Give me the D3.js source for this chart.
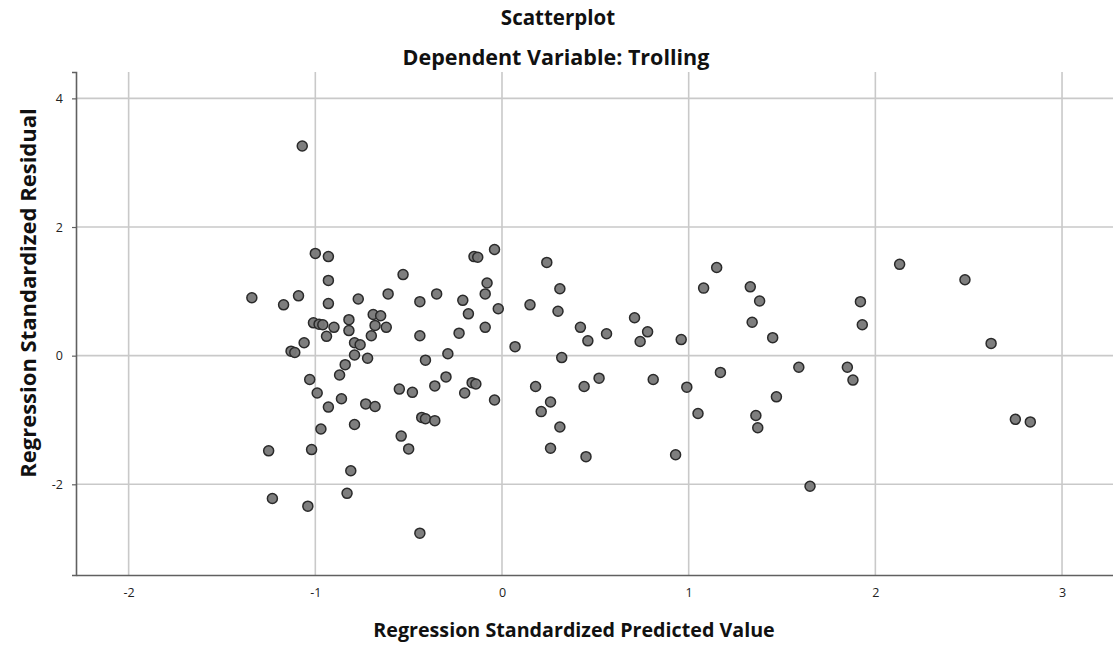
<!DOCTYPE html>
<html>
<head>
<meta charset="utf-8">
<script src="https://cdn.jsdelivr.net/npm/d3@7"></script>
<style>
  html, body { margin: 0; padding: 0; background: #fff; }
  svg { display: block; font-family: "Open Sans", sans-serif; }
</style>
</head>
<body>
<div id="root"></div>
<script>
// standardized predicted values (x) and standardized residuals (y)
const predicted = [
  -1.00, -0.93, -0.93, -1.34, -1.17, -1.09, -0.93, -0.77, -0.61, -0.53,
  -0.44, -0.35, -0.21, -0.18, -0.15, -0.13, -0.04, -0.08, -0.09, -0.02,
  -0.09, -0.23, -0.44, 0.07, -1.01, -0.98, -0.96, -0.90, -0.94, -0.82,
  -0.82, -0.69, -0.65, -0.68, -0.62, -0.70, -0.79, -0.76, -0.79, -0.72,
  -1.06, -1.13, -1.11, -0.84, -0.87, -1.03, -0.99, -0.86, -0.93, -0.73,
  -0.68, -0.79, -0.97, -0.55, -0.48, -0.41, -0.29, -0.30, -0.36, -0.16,
  -0.14, -0.20, -0.04, -0.43, -0.41, -0.36, -0.54, -0.50, -1.25, -1.02,
  -0.81, -0.83, -1.23, -1.04, -0.44, -1.07, 0.24, 0.31, 0.15, 0.30,
  0.42, 0.46, 0.56, 0.71, 0.78, 0.74, 0.96, 0.32, 0.18, 0.26,
  0.21, 0.31, 0.26, 0.45, 0.44, 0.52, 0.81, 0.93, 0.99, 1.05,
  1.08, 1.15, 1.17, 1.33, 1.38, 1.34, 1.45, 1.47, 1.36, 1.37,
  1.59, 1.85, 1.88, 1.92, 1.93, 1.65, 2.13, 2.48, 2.62, 2.75,
  2.83
];
const residual = [
  1.59, 1.54, 1.17, 0.90, 0.79, 0.93, 0.81, 0.88, 0.96, 1.26,
  0.84, 0.96, 0.86, 0.65, 1.54, 1.53, 1.65, 1.13, 0.96, 0.73,
  0.44, 0.35, 0.31, 0.14, 0.51, 0.49, 0.48, 0.44, 0.30, 0.56,
  0.39, 0.64, 0.62, 0.47, 0.44, 0.31, 0.20, 0.17, 0.01, -0.04,
  0.20, 0.07, 0.05, -0.14, -0.30, -0.37, -0.58, -0.67, -0.80, -0.75,
  -0.79, -1.07, -1.14, -0.52, -0.57, -0.07, 0.03, -0.33, -0.47, -0.42,
  -0.44, -0.58, -0.69, -0.96, -0.98, -1.01, -1.25, -1.45, -1.48, -1.46,
  -1.79, -2.14, -2.22, -2.34, -2.76, 3.26, 1.45, 1.04, 0.79, 0.69,
  0.44, 0.23, 0.34, 0.59, 0.37, 0.22, 0.25, -0.03, -0.48, -0.72,
  -0.87, -1.11, -1.44, -1.57, -0.48, -0.35, -0.37, -1.54, -0.49, -0.90,
  1.05, 1.37, -0.26, 1.07, 0.85, 0.52, 0.28, -0.64, -0.93, -1.12,
  -0.18, -0.18, -0.38, 0.84, 0.48, -2.03, 1.42, 1.18, 0.19, -0.99,
  -1.03
];
const xTicks = [-2, -1, 0, 1, 2, 3];
const yTicks = [-2, 0, 2, 4];

const title = "Scatterplot";
const subtitle = "Dependent Variable: Trolling";
const xLabel = "Regression Standardized Predicted Value";
const yLabel = "Regression Standardized Residual";

const width = 1113;
const height = 650;

const plotLeft = 76;
const plotRight = 1113;
const plotTop = 72;
const plotBottom = 575;

const points = predicted.map((p, i) => ({ x: p, y: residual[i] }));

const svg = d3
  .select("#root")
  .append("svg")
  .attr("width", width)
  .attr("height", height)
  .attr("viewBox", [0, 0, width, height]);

const x = d3.scaleLinear().domain([-2.282, 3.273]).range([plotLeft, plotRight]);
const y = d3.scaleLinear().domain([-3.41, 4.41]).range([plotBottom, plotTop]);

// plain hyphen for negatives, like the original
const fmt = (d) => String(d);

// grid
const grid = svg.append("g").attr("stroke", "#c9c9c9").attr("stroke-width", 1.6);

grid
  .selectAll("line.vgrid")
  .data(xTicks)
  .join("line")
  .attr("class", "vgrid")
  .attr("x1", (d) => x(d))
  .attr("x2", (d) => x(d))
  .attr("y1", plotTop)
  .attr("y2", plotBottom);

grid
  .selectAll("line.hgrid")
  .data(yTicks)
  .join("line")
  .attr("class", "hgrid")
  .attr("x1", plotLeft)
  .attr("x2", plotRight)
  .attr("y1", (d) => y(d))
  .attr("y2", (d) => y(d));

// axes
const xAxis = svg
  .append("g")
  .attr("transform", `translate(0, ${plotBottom})`)
  .call(d3.axisBottom(x).tickValues(xTicks).tickFormat(fmt).tickSize(0).tickPadding(13));

const yAxis = svg
  .append("g")
  .attr("transform", `translate(${plotLeft}, 0)`)
  .call(d3.axisLeft(y).tickValues(yTicks).tickFormat(fmt).tickSize(4).tickPadding(9));

[xAxis, yAxis].forEach((g) => {
  g.select(".domain").attr("stroke", "#606060").attr("stroke-width", 1.6);
  g.selectAll(".tick line").attr("stroke", "#606060").attr("stroke-width", 1.2);
  g.selectAll(".tick text")
    .attr("fill", "#222")
    .style("font-family", "'Open Sans', sans-serif")
    .style("font-size", "12.5px");
});

// points
svg
  .append("g")
  .selectAll("circle")
  .data(points)
  .join("circle")
  .attr("cx", (d) => x(d.x))
  .attr("cy", (d) => y(d.y))
  .attr("r", 5)
  .attr("fill", "#777")
  .attr("fill-opacity", 0.95)
  .attr("stroke", "#2a2a2a")
  .attr("stroke-width", 1.5);

// titles
svg
  .append("text")
  .text(title)
  .attr("x", 558)
  .attr("y", 25)
  .attr("text-anchor", "middle")
  .attr("font-weight", "bold")
  .attr("font-size", 20.5)
  .attr("fill", "#111");

svg
  .append("text")
  .text(subtitle)
  .attr("x", 556)
  .attr("y", 65)
  .attr("text-anchor", "middle")
  .attr("font-weight", "bold")
  .attr("font-size", 21.5)
  .attr("fill", "#111");

svg
  .append("text")
  .text(xLabel)
  .attr("x", 574)
  .attr("y", 637)
  .attr("text-anchor", "middle")
  .attr("font-weight", "bold")
  .attr("font-size", 19.7)
  .attr("fill", "#111");

svg
  .append("text")
  .text(yLabel)
  .attr("transform", "translate(36, 293) rotate(-90)")
  .attr("text-anchor", "middle")
  .attr("font-weight", "bold")
  .attr("font-size", 22)
  .attr("fill", "#111");
</script>
</body>
</html>
